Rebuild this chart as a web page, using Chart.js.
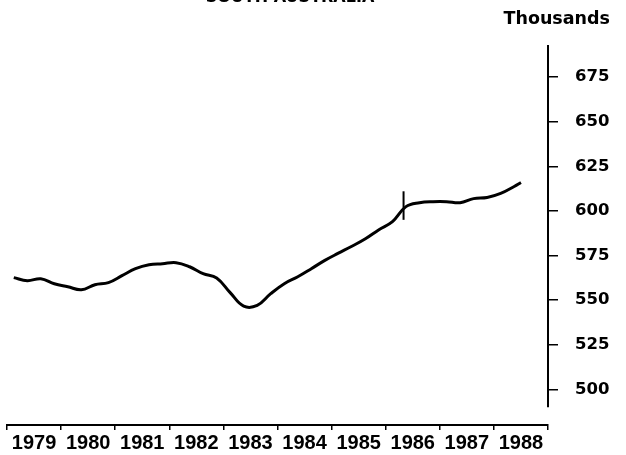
<!DOCTYPE html>
<html>
<head>
<meta charset="utf-8">
<script src="https://cdn.jsdelivr.net/npm/chart.js@4"></script>
<style>
  html, body { margin: 0; padding: 0; background: #fff; }
  #wrap { width: 626px; height: 455px; position: relative; }
</style>
</head>
<body>
<div id="wrap"><canvas id="chart"></canvas></div>
<script>
const years = ['1979', '1980', '1981', '1982', '1983', '1984', '1985', '1986', '1987', '1988'];

// quarter mid points, decimal years
const quarters = [
    1979.125, 1979.375, 1979.625, 1979.875,
    1980.125, 1980.375, 1980.625, 1980.875,
    1981.125, 1981.375, 1981.625, 1981.875,
    1982.125, 1982.375, 1982.625, 1982.875,
    1983.125, 1983.375, 1983.625, 1983.875,
    1984.125, 1984.375, 1984.625, 1984.875,
    1985.125, 1985.375, 1985.625, 1985.875,
    1986.125, 1986.375, 1986.625, 1986.875,
    1987.125, 1987.375, 1987.625, 1987.875,
    1988.125, 1988.375, 1988.5
];

// employed persons, thousands
const employed = [
    562.6, 560.9, 562.0, 559.2,
    557.5, 555.8, 558.6, 559.8,
    563.7, 567.6, 569.8, 570.4,
    571.0, 568.7, 564.8, 562.4,
    554.2, 546.6, 547.0, 553.6,
    559.2, 563.1, 567.6, 572.3,
    576.3, 580.2, 584.4, 589.5,
    594.0, 602.4, 604.6, 605.2,
    605.2, 604.6, 606.9, 607.5,
    609.8, 613.7, 615.9
];

// series break marker
const breakAt = 1986.33;
const breakSpan = [595, 611];

const yTicks = [500, 525, 550, 575, 600, 625, 650, 675];

const ink = '#000';
const face = { family: 'DejaVu Sans', weight: 'bold' };

// y axis line stops short of the bottom axis, as on the original
const yAxisLine = {
    id: 'yAxisLine',
    afterDraw(chart, args, opts) {
        const { ctx, chartArea, scales } = chart;
        ctx.save();
        ctx.strokeStyle = opts.color;
        ctx.lineWidth = opts.width;
        ctx.beginPath();
        ctx.moveTo(chartArea.right, chartArea.top);
        ctx.lineTo(chartArea.right, scales.y.getPixelForValue(opts.floor));
        ctx.stroke();
        ctx.restore();
    }
};

// heading, cut off by the top edge
const cutTitle = {
    id: 'cutTitle',
    afterDraw(chart, args, opts) {
        const ctx = chart.ctx;
        ctx.save();
        ctx.fillStyle = opts.color;
        ctx.font = 'bold 16px "DejaVu Sans"';
        ctx.textAlign = 'center';
        ctx.textBaseline = 'alphabetic';
        ctx.fillText(opts.text, opts.x, opts.y);
        ctx.restore();
    }
};

new Chart(document.getElementById('chart'), {
    type: 'line',
    data: {
        datasets: [
            {
                label: 'Employed',
                data: quarters.map((q, i) => ({ x: q, y: employed[i] })),
                borderColor: ink,
                borderWidth: 3,
                pointRadius: 0,
                tension: 0.4,
                fill: false
            },
            {
                label: 'Break',
                data: breakSpan.map(v => ({ x: breakAt, y: v })),
                borderColor: ink,
                borderWidth: 2,
                pointRadius: 0,
                fill: false
            }
        ]
    },
    options: {
        responsive: true,
        maintainAspectRatio: false,
        animation: false,
        layout: { padding: { left: 7, right: 16, top: 0, bottom: 0 } },
        plugins: {
            legend: { display: false },
            tooltip: { enabled: false },
            title: { display: false },
            subtitle: {
                display: true,
                text: 'Thousands',
                align: 'end',
                color: ink,
                font: { ...face, size: 17.5 },
                padding: { top: 8.5, bottom: 15.5 }
            },
            yAxisLine: { color: ink, width: 2, floor: 490 },
            cutTitle: { text: 'SOUTH AUSTRALIA', x: 290, y: 2, color: ink }
        },
        scales: {
            x: {
                type: 'linear',
                min: 1979,
                max: 1989,
                display: false
            },
            xYears: {
                type: 'category',
                axis: 'x',
                position: 'bottom',
                labels: years,
                offset: true,
                afterFit: s => { s.height = 30; },
                border: { display: true, color: ink, width: 2 },
                grid: { offset: true, drawOnChartArea: false, tickLength: 5, color: ink, lineWidth: 1.5 },
                ticks: {
                    color: ink, padding: 1, autoSkip: false, maxRotation: 0,
                    font: { family: 'Liberation Sans', weight: 'bold', size: 20 }
                }
            },
            y: {
                position: 'right',
                min: 480,
                max: 693,
                afterBuildTicks: s => { s.ticks = yTicks.map(v => ({ value: v })); },
                afterFit: s => { s.width = 62; },
                border: { display: false },
                grid: { drawOnChartArea: false, tickLength: 10, color: ink, lineWidth: 1.5 },
                ticks: { color: ink, padding: 17, font: { ...face, size: 16.5 } }
            }
        }
    },
    plugins: [yAxisLine, cutTitle]
});
</script>
</body>
</html>
